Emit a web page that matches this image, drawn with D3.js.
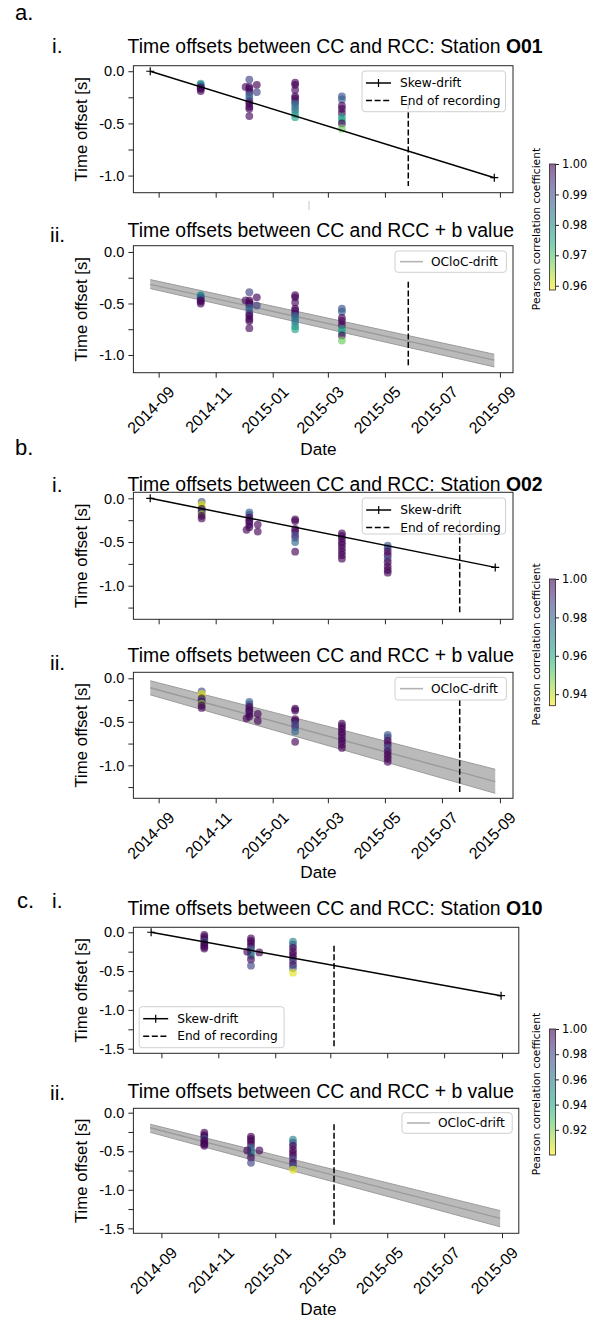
<!DOCTYPE html>
<html>
<head>
<meta charset="utf-8">
<script src="https://d3js.org/d3.v7.min.js"></script>
<style>
  body { margin: 0; background: #fff; }
  svg text { font-family: "Liberation Sans", Arial, sans-serif; fill: #000; }
  svg text.mpl { font-family: "DejaVu Sans", sans-serif; }
</style>
</head>
<body>
<svg id="fig" width="606" height="1319"></svg>
<script>
// x tick labels shared by every panel
const monthTicks = ["2014-09", "2014-11", "2015-01", "2015-03", "2015-05", "2015-07", "2015-09"];

// ---------- Station O01 ----------
const o01Dates = [
  "2014-10-16", "2014-10-16", "2014-10-16", "2014-10-16", "2014-10-16", "2014-10-16", "2014-10-16",
  "2014-12-07", "2014-12-07", "2014-12-07", "2014-12-07", "2014-12-07", "2014-12-07", "2014-12-07", "2014-12-07", "2014-12-07", "2014-12-07", "2014-12-07",
  "2014-12-03", "2014-12-15", "2014-12-15",
  "2015-01-25", "2015-01-25", "2015-01-25", "2015-01-25", "2015-01-25", "2015-01-25", "2015-01-25", "2015-01-25", "2015-01-25", "2015-01-25", "2015-01-25",
  "2015-03-16", "2015-03-16", "2015-03-16", "2015-03-16", "2015-03-16", "2015-03-16", "2015-03-16", "2015-03-16", "2015-03-16"
];
const o01Skew = [
  -0.12, -0.13, -0.14, -0.15, -0.16, -0.17, -0.19,
  -0.08, -0.15, -0.17, -0.20, -0.23, -0.26, -0.29, -0.31, -0.34, -0.36, -0.43,
  -0.15, -0.13, -0.20,
  -0.11, -0.13, -0.18, -0.24, -0.26, -0.29, -0.31, -0.34, -0.37, -0.41, -0.44,
  -0.24, -0.27, -0.33, -0.36, -0.40, -0.44, -0.47, -0.50, -0.55
];
const o01Bval = [
  -0.42, -0.43, -0.44, -0.45, -0.47, -0.48, -0.50,
  -0.39, -0.47, -0.49, -0.51, -0.54, -0.57, -0.60, -0.62, -0.65, -0.67, -0.74,
  -0.47, -0.44, -0.52,
  -0.42, -0.44, -0.49, -0.55, -0.57, -0.60, -0.62, -0.65, -0.68, -0.72, -0.75,
  -0.55, -0.58, -0.64, -0.67, -0.71, -0.75, -0.78, -0.81, -0.86
];
const o01Corr = [
  0.978, 0.985, 0.980, 0.990, 1.000, 0.998, 1.000,
  0.992, 1.000, 1.000, 0.999, 0.988, 0.986, 0.995, 1.000, 1.000, 1.000, 0.999,
  0.999, 1.000, 0.992,
  1.000, 1.000, 0.999, 1.000, 1.000, 0.998, 0.986, 0.985, 0.984, 0.980, 0.976,
  0.990, 0.988, 1.000, 0.999, 1.000, 0.977, 0.975, 1.000, 0.968
];
const o01DriftDates = ["2014-08-23", "2015-08-26"];
const o01SkewDrift = [0, -1.02];
const o01OclocMid = [-0.314, -1.05];
const o01OclocHigh = [-0.268, -0.993];
const o01OclocLow = [-0.355, -1.116];
const o01EndDate = "2015-05-26";
const o01EndSpanI = [-0.31, -1.10];
const o01EndSpanII = [-0.29, -1.11];
const o01CorrRange = [0.9586, 1.0];
const o01CorrTicks = [0.96, 0.97, 0.98, 0.99, 1.00];

// ---------- Station O02 ----------
const o02Dates = [
  "2014-10-17", "2014-10-17", "2014-10-17", "2014-10-17", "2014-10-17", "2014-10-17", "2014-10-17", "2014-10-17", "2014-10-17",
  "2014-12-07", "2014-12-07", "2014-12-07", "2014-12-07", "2014-12-07", "2014-12-07", "2014-12-07",
  "2014-12-04", "2014-12-16", "2014-12-16",
  "2015-01-25", "2015-01-25", "2015-01-25", "2015-01-25", "2015-01-25", "2015-01-25", "2015-01-25", "2015-01-25",
  "2015-03-16", "2015-03-16", "2015-03-16", "2015-03-16", "2015-03-16", "2015-03-16", "2015-03-16", "2015-03-16", "2015-03-16",
  "2015-05-04", "2015-05-04", "2015-05-04", "2015-05-04", "2015-05-04", "2015-05-04", "2015-05-04", "2015-05-04", "2015-05-04"
];
const o02Skew = [
  -0.04, -0.07, -0.10, -0.12, -0.14, -0.16, -0.18, -0.20, -0.23,
  -0.16, -0.19, -0.22, -0.25, -0.27, -0.30, -0.33,
  -0.36, -0.30, -0.38,
  -0.24, -0.26, -0.35, -0.38, -0.42, -0.45, -0.50, -0.61,
  -0.40, -0.43, -0.46, -0.50, -0.53, -0.57, -0.61, -0.65, -0.69,
  -0.54, -0.57, -0.61, -0.65, -0.69, -0.73, -0.78, -0.82, -0.85
];
const o02Bval = [
  -0.15, -0.18, -0.21, -0.23, -0.25, -0.27, -0.29, -0.31, -0.34,
  -0.27, -0.30, -0.33, -0.36, -0.38, -0.41, -0.44,
  -0.46, -0.41, -0.49,
  -0.35, -0.37, -0.47, -0.49, -0.53, -0.56, -0.61, -0.73,
  -0.52, -0.55, -0.58, -0.62, -0.65, -0.69, -0.72, -0.76, -0.80,
  -0.65, -0.68, -0.72, -0.76, -0.80, -0.84, -0.88, -0.92, -0.96
];
const o02Corr = [
  0.985, 0.937, 0.940, 1.000, 0.985, 1.000, 0.945, 1.000, 0.999,
  0.980, 0.983, 1.000, 0.998, 1.000, 0.995, 1.000,
  0.999, 0.999, 0.999,
  1.000, 1.000, 1.000, 1.000, 0.985, 0.990, 0.978, 0.999,
  1.000, 0.998, 1.000, 0.999, 1.000, 0.998, 1.000, 0.999, 1.000,
  0.982, 0.986, 1.000, 0.999, 0.985, 0.999, 1.000, 1.000, 0.999
];
const o02DriftDates = ["2014-08-23", "2015-08-27"];
const o02SkewDrift = [0, -0.79];
const o02OclocMid = [-0.108, -1.188];
const o02OclocHigh = [-0.028, -1.046];
const o02OclocLow = [-0.19, -1.322];
const o02EndDate = "2015-07-20";
const o02EndSpanI = [-0.25, -1.31];
const o02EndSpanII = [-0.25, -1.31];
const o02CorrRange = [0.934, 1.0];
const o02CorrTicks = [0.94, 0.96, 0.98, 1.00];

// ---------- Station O10 ----------
const o10Dates = [
  "2014-10-17", "2014-10-17", "2014-10-17", "2014-10-17", "2014-10-17", "2014-10-17", "2014-10-17", "2014-10-17",
  "2014-12-06", "2014-12-06", "2014-12-06", "2014-12-06", "2014-12-06", "2014-12-06", "2014-12-06", "2014-12-06", "2014-12-06",
  "2014-12-02", "2014-12-15",
  "2015-01-20", "2015-01-20", "2015-01-20", "2015-01-20", "2015-01-20", "2015-01-20", "2015-01-20", "2015-01-20", "2015-01-20", "2015-01-20"
];
const o10Skew = [
  -0.035, -0.06, -0.09, -0.12, -0.14, -0.17, -0.19, -0.21,
  -0.08, -0.11, -0.14, -0.18, -0.22, -0.26, -0.30, -0.35, -0.43,
  -0.25, -0.26,
  -0.12, -0.16, -0.20, -0.25, -0.29, -0.33, -0.37, -0.42, -0.46, -0.52
];
const o10Bval = [
  -0.26, -0.29, -0.31, -0.34, -0.36, -0.39, -0.41, -0.43,
  -0.31, -0.34, -0.37, -0.41, -0.45, -0.49, -0.53, -0.58, -0.65,
  -0.49, -0.49,
  -0.35, -0.39, -0.43, -0.48, -0.52, -0.56, -0.60, -0.65, -0.69, -0.74
];
const o10Corr = [
  0.999, 0.999, 0.998, 0.970, 1.000, 0.999, 1.000, 0.998,
  1.000, 1.000, 0.999, 1.000, 0.970, 0.965, 0.955, 1.000, 0.980,
  0.999, 1.000,
  0.955, 0.970, 1.000, 0.999, 1.000, 1.000, 0.980, 1.000, 0.975, 0.905
];
const o10DriftDates = ["2014-08-21", "2015-08-31"];
const o10OclocDates = ["2014-08-20", "2015-08-30"];
const o10SkewDrift = [0, -0.817];
const o10OclocMid = [-0.195, -1.37];
const o10OclocHigh = [-0.15, -1.27];
const o10OclocLow = [-0.255, -1.48];
const o10EndDate = "2015-03-05";
const o10EndSpanI = [-0.173, -1.474];
const o10EndSpanII = [-0.15, -1.48];
const o10CorrRange = [0.900, 1.0];
const o10CorrTicks = [0.92, 0.94, 0.96, 0.98, 1.00];

// ---------- helpers ----------
const parseDay = d3.timeParse("%Y-%m-%d");
const parseMonth = d3.timeParse("%Y-%m");
const svg = d3.select("#fig");
svg.append("rect").attr("width", 606).attr("height", 1319).attr("fill", "#fff");

const frameColor = "#262626";
const ptAlpha = 0.65;

const stations = {
  O01: { dates: o01Dates, skew: o01Skew, bval: o01Bval, corr: o01Corr, driftDates: o01DriftDates, oclocDates: o01DriftDates,
         skewDrift: o01SkewDrift, mid: o01OclocMid, high: o01OclocHigh, low: o01OclocLow,
         endDate: o01EndDate, endI: o01EndSpanI, endII: o01EndSpanII, range: o01CorrRange, cticks: o01CorrTicks },
  O02: { dates: o02Dates, skew: o02Skew, bval: o02Bval, corr: o02Corr, driftDates: o02DriftDates, oclocDates: o02DriftDates,
         skewDrift: o02SkewDrift, mid: o02OclocMid, high: o02OclocHigh, low: o02OclocLow,
         endDate: o02EndDate, endI: o02EndSpanI, endII: o02EndSpanII, range: o02CorrRange, cticks: o02CorrTicks },
  O10: { dates: o10Dates, skew: o10Skew, bval: o10Bval, corr: o10Corr, driftDates: o10DriftDates, oclocDates: o10OclocDates,
         skewDrift: o10SkewDrift, mid: o10OclocMid, high: o10OclocHigh, low: o10OclocLow,
         endDate: o10EndDate, endI: o10EndSpanI, endII: o10EndSpanII, range: o10CorrRange, cticks: o10CorrTicks },
};

const colorFor = (range) => (v) => d3.interpolateViridis(1 - (v - range[0]) / (range[1] - range[0]));

const drawLegend = (g, lg, kind) => {
  g.append("rect")
    .attr("x", lg.x).attr("y", lg.y).attr("width", lg.w).attr("height", lg.h)
    .attr("rx", 3).attr("fill", "#fff").attr("fill-opacity", 0.8)
    .attr("stroke", "#d0d0d0").attr("stroke-width", 1);
  const sx0 = lg.x + 4, sx1 = lg.x + 29, tx = lg.x + 38;
  if (kind === "i") {
    const r1 = lg.y + 12, r2 = lg.y + 29.5;
    g.append("line").attr("x1", sx0).attr("x2", sx1).attr("y1", r1).attr("y2", r1)
      .attr("stroke", "#000").attr("stroke-width", 1.5);
    g.append("path").attr("d", `M${(sx0 + sx1) / 2},${r1 - 4}v8`).attr("stroke", "#000").attr("stroke-width", 1.2);
    g.append("line").attr("x1", sx0).attr("x2", sx1).attr("y1", r2).attr("y2", r2)
      .attr("stroke", "#000").attr("stroke-width", 1.5).attr("stroke-dasharray", "6,2.6");
    g.append("text").attr("class", "mpl").attr("x", tx).attr("y", r1).attr("dy", "0.35em")
      .style("font-size", "12.2px").text("Skew-drift");
    g.append("text").attr("class", "mpl").attr("x", tx).attr("y", r2).attr("dy", "0.35em")
      .style("font-size", "12.2px").text("End of recording");
  } else {
    const r1 = lg.y + lg.h / 2;
    g.append("line").attr("x1", sx0 + 1).attr("x2", sx1 - 1).attr("y1", r1).attr("y2", r1)
      .attr("stroke", "#b4b4b4").attr("stroke-width", 1.6);
    g.append("text").attr("class", "mpl").attr("x", tx - 2).attr("y", r1).attr("dy", "0.35em")
      .style("font-size", "12.2px").text("OCloC-drift");
  }
};

const renderPanel = (p) => {
  const st = stations[p.station];
  const x = d3.scaleTime().domain(p.xDomain.map(parseDay)).range([p.left, p.right]);
  const y = d3.scaleLinear().domain(p.yDomain).range([p.bottom, p.top]);
  const color = colorFor(st.range);
  const g = svg.append("g");

  if (p.kind === "ii") {
    const band = st.oclocDates.map((d, i) => ({ date: parseDay(d), mid: st.mid[i], hi: st.high[i], lo: st.low[i] }));
    g.append("path").datum(band)
      .attr("d", d3.area().x((d) => x(d.date)).y0((d) => y(d.lo)).y1((d) => y(d.hi)))
      .attr("fill", "#8c8c8c").attr("fill-opacity", 0.6);
    ["hi", "lo", "mid"].forEach((k) => {
      g.append("path").datum(band)
        .attr("d", d3.line().x((d) => x(d.date)).y((d) => y(d[k])))
        .attr("fill", "none").attr("stroke", "#9b9b9b").attr("stroke-width", k === "mid" ? 1.4 : 1);
    });
  }

  const offsets = p.kind === "i" ? st.skew : st.bval;
  const pts = st.dates.map((d, i) => ({ date: parseDay(d), off: offsets[i], corr: st.corr[i] }));
  g.selectAll("circle.pt").data(pts).join("circle")
    .attr("class", "pt")
    .attr("cx", (d) => x(d.date)).attr("cy", (d) => y(d.off)).attr("r", 3.9)
    .attr("fill", (d) => color(d.corr)).attr("fill-opacity", ptAlpha);

  if (p.kind === "i") {
    const skew = st.driftDates.map((d, i) => ({ date: parseDay(d), off: st.skewDrift[i] }));
    g.append("path").datum(skew)
      .attr("d", d3.line().x((d) => x(d.date)).y((d) => y(d.off)))
      .attr("fill", "none").attr("stroke", "#000").attr("stroke-width", 1.5);
    g.selectAll("path.plus").data(skew).join("path")
      .attr("class", "plus")
      .attr("d", (d) => `M${x(d.date) - 4},${y(d.off)}h8M${x(d.date)},${y(d.off) - 4}v8`)
      .attr("stroke", "#000").attr("stroke-width", 1.2);
  }

  const span = p.kind === "i" ? st.endI : st.endII;
  g.append("line")
    .attr("x1", x(parseDay(st.endDate))).attr("x2", x(parseDay(st.endDate)))
    .attr("y1", y(span[0])).attr("y2", y(span[1]))
    .attr("stroke", "#000").attr("stroke-width", 1.5).attr("stroke-dasharray", "6,2.6");

  // axes
  const yTicks = d3.range(0, p.yDomain[0], -0.25);
  const yAxis = g.append("g").attr("transform", `translate(${p.left},0)`)
    .call(d3.axisLeft(y).tickValues(yTicks).tickSize(5).tickPadding(4)
      .tickFormat((v) => (Math.abs(v * 2 - Math.round(v * 2)) < 1e-9 ? v.toFixed(1) : "")));
  yAxis.select(".domain").remove();
  yAxis.selectAll("line").attr("stroke", frameColor);
  yAxis.selectAll("text").style("font-family", '"Liberation Sans", Arial, sans-serif').style("font-size", "14.6px").attr("fill", "#000");

  const xAxis = g.append("g").attr("transform", `translate(0,${p.bottom})`)
    .call(d3.axisBottom(x).tickValues(monthTicks.map(parseMonth)).tickSize(5).tickFormat(""));
  xAxis.select(".domain").remove();
  xAxis.selectAll("line").attr("stroke", frameColor);

  if (p.kind === "ii") {
    g.selectAll("text.xlab").data(monthTicks).join("text")
      .attr("class", "xlab")
      .attr("text-anchor", "end")
      .attr("transform", (m) => `translate(${x(parseMonth(m)) + 17},${p.bottom + 20.3}) rotate(-45)`)
      .style("font-size", "16px")
      .text((m) => m);
    g.append("text").attr("x", 318.5).attr("y", p.dateY).attr("text-anchor", "middle")
      .style("font-size", "17.2px").text("Date");
  }

  g.append("rect")
    .attr("x", p.left).attr("y", p.top).attr("width", p.right - p.left).attr("height", p.bottom - p.top)
    .attr("fill", "none").attr("stroke", frameColor).attr("stroke-width", 1);

  g.append("text")
    .attr("transform", `translate(86.5,${(p.top + p.bottom) / 2}) rotate(-90)`)
    .attr("text-anchor", "middle").style("font-size", "16.8px").text("Time offset [s]");

  const title = g.append("text").attr("x", 127.6).attr("y", p.titleY).style("font-size", "19.4px");
  if (p.kind === "i") {
    title.append("tspan").text("Time offsets between CC and RCC: Station ");
    title.append("tspan").attr("font-weight", "bold").text(p.station);
  } else {
    title.text("Time offsets between CC and RCC + b value");
  }
  g.append("text").attr("x", p.romanX).attr("y", p.romanY).style("font-size", "21px").text(p.kind + ".");

  drawLegend(g, p.legend, p.kind);
};

const renderColorbar = (c) => {
  const st = stations[c.station];
  const color = colorFor(st.range);
  const y = d3.scaleLinear().domain(st.range).range([c.bottom, c.top]);
  const gid = `cb-${c.station}`;
  const grad = svg.append("defs").append("linearGradient").attr("id", gid)
    .attr("x1", 0).attr("x2", 0).attr("y1", 1).attr("y2", 0);
  d3.range(0, 1.0001, 0.05).forEach((t) => {
    grad.append("stop").attr("offset", t)
      .attr("stop-color", color(st.range[0] + t * (st.range[1] - st.range[0])));
  });
  const g = svg.append("g");
  g.append("rect").attr("x", c.x).attr("y", c.top).attr("width", 6).attr("height", c.bottom - c.top)
    .attr("fill", `url(#${gid})`).attr("fill-opacity", 0.6);
  const ax = g.append("g").attr("transform", `translate(${c.x + 6},0)`)
    .call(d3.axisRight(y).tickValues(st.cticks).tickSize(3.5).tickPadding(3).tickFormat(d3.format(".2f")));
  ax.select(".domain").remove();
  ax.selectAll("line").attr("stroke", frameColor);
  ax.selectAll("text").attr("class", "mpl").style("font-size", "11.4px").attr("fill", "#000");
  g.append("rect").attr("x", c.x).attr("y", c.top).attr("width", 6).attr("height", c.bottom - c.top)
    .attr("fill", "none").attr("stroke", frameColor).attr("stroke-width", 0.8);
  g.append("text").attr("class", "mpl")
    .attr("transform", `translate(539.5,${(c.top + c.bottom) / 2 + 2}) rotate(-90)`)
    .attr("text-anchor", "middle").style("font-size", "10.7px").text("Pearson correlation coefficient");
};

// ---------- layout ----------
const abX = ["2014-08-05", "2015-09-15"];
const cX = ["2014-08-02", "2015-09-19"];
const panels = [
  { station: "O01", kind: "i", xDomain: abX, yDomain: [-1.164, 0.053], left: 133.4, right: 513, top: 65.7, bottom: 192.7,
    titleY: 53.3, romanX: 52, romanY: 53, legend: { x: 362, y: 71, w: 143.5, h: 40.7 } },
  { station: "O01", kind: "ii", xDomain: abX, yDomain: [-1.172, 0.061], left: 133.4, right: 513, top: 245.7, bottom: 372.7,
    titleY: 236.7, romanX: 50, romanY: 241.7, dateY: 455, legend: { x: 395, y: 251, w: 111.4, h: 21.3 } },
  { station: "O02", kind: "i", xDomain: abX, yDomain: [-1.384, 0.069], left: 133.4, right: 513, top: 492.3, bottom: 619.3,
    titleY: 490.5, romanX: 52, romanY: 491.7, legend: { x: 362.2, y: 498, w: 143.4, h: 36 } },
  { station: "O02", kind: "ii", xDomain: abX, yDomain: [-1.379, 0.069], left: 133.4, right: 513, top: 672.3, bottom: 798.3,
    titleY: 661.7, romanX: 50, romanY: 670, dateY: 878, legend: { x: 395, y: 677.3, w: 111.4, h: 22.7 } },
  { station: "O10", kind: "i", xDomain: cX, yDomain: [-1.559, 0.064], left: 133.4, right: 518.8, top: 927.3, bottom: 1053.3,
    titleY: 915, romanX: 52, romanY: 908.3, legend: { x: 139.2, y: 1006.7, w: 144.9, h: 41 } },
  { station: "O10", kind: "ii", xDomain: cX, yDomain: [-1.564, 0.057], left: 133.4, right: 518.8, top: 1108.3, bottom: 1233.3,
    titleY: 1098, romanX: 50, romanY: 1100, dateY: 1315, legend: { x: 402, y: 1112.7, w: 110.2, h: 20.6 } },
];
panels.forEach(renderPanel);

[
  { station: "O01", x: 549.5, top: 164, bottom: 290 },
  { station: "O02", x: 549.5, top: 579, bottom: 705.7 },
  { station: "O10", x: 549.5, top: 1029, bottom: 1155 },
].forEach(renderColorbar);

// panel letters
[["a.", 15, 20], ["b.", 15, 455], ["c.", 17, 908.3]].forEach(([t, lx, ly]) => {
  svg.append("text").attr("x", lx).attr("y", ly).style("font-size", "22px").text(t);
});
// faint stray mark between a.i and a.ii
svg.append("line").attr("x1", 309).attr("x2", 309).attr("y1", 201).attr("y2", 210)
  .attr("stroke", "#c8c8c8").attr("stroke-width", 1);
</script>
</body>
</html>
